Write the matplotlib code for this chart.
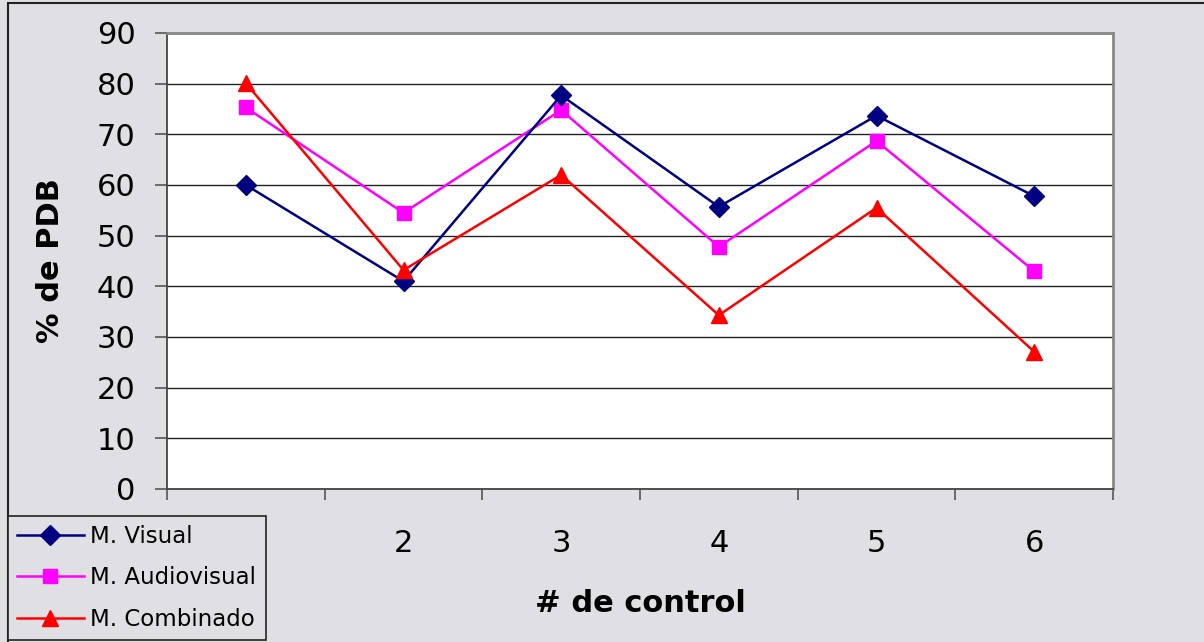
import numpy as np
import matplotlib
matplotlib.use('Agg')
import matplotlib.pyplot as plt
from matplotlib.patches import Rectangle

plt.rcParams['font.family'] = ['DejaVu Sans']

controles = ['1', '2', '3', '4', '5', '6']
visual = [60.0, 41.0, 77.7, 55.7, 73.7, 57.8]
audiovisual = [75.3, 54.5, 74.8, 47.8, 68.7, 43.0]
combinado = [80.1, 43.2, 62.0, 34.3, 55.5, 27.1]

W, H = 1204, 642
bg = '#e0dfe3'
fig = plt.figure(figsize=(W/100, H/100), dpi=100, facecolor=bg)

# outer frame (only top and left edges fall inside the image)
fig.patches.append(Rectangle((8/W, -0.1), 1.2, 1 - 3/H + 0.1, transform=fig.transFigure,
                             fill=False, edgecolor='#222222', lw=1.5))

ax = fig.add_axes([167/W, 1 - 489/H, 946/W, 456/H])
ax.set_facecolor('white')

x = np.arange(len(controles))
ax.plot(x, visual, color='#000080', marker='D', markersize=10, lw=1.8, label='M. Visual', zorder=5)
ax.plot(x, audiovisual, color='#ff00ff', marker='s', markersize=10, lw=1.8, label='M. Audiovisual', zorder=4)
ax.plot(x, combinado, color='#ff0000', marker='^', markersize=12, lw=1.8, label='M. Combinado', zorder=6)

ax.set_xlim(-0.5, 5.5)
ax.set_ylim(0, 90)
ax.set_yticks(np.arange(0, 91, 10))
ax.yaxis.grid(True, color='#222222', lw=1)
ax.set_axisbelow(True)

ax.set_xticks(np.arange(-0.5, 6, 1))
ax.set_xticklabels([])
ax.set_xticks(x, minor=True)
ax.set_xticklabels(controles, minor=True)
ax.tick_params(axis='x', which='major', direction='out', length=8, width=1.2, color='#555555')
ax.tick_params(axis='x', which='minor', length=0, pad=29, labelsize=22)
ax.tick_params(axis='y', direction='out', length=8.6, width=1.2, color='#555555', labelsize=22, pad=14)

for s in ['left', 'bottom']:
    ax.spines[s].set_color('#444444')
    ax.spines[s].set_linewidth(1.3)
for s in ['top', 'right']:
    ax.spines[s].set_color('#888888')
    ax.spines[s].set_linewidth(2)

ax.set_ylabel('% de PDB', fontsize=22, fontweight='bold', labelpad=23)
ax.set_xlabel('# de control', fontsize=22, fontweight='bold', labelpad=22)

leg = fig.legend(loc='upper left', bbox_to_anchor=(8/W, 1 - 516/H), borderaxespad=0,
                 fontsize=16.5, frameon=True, fancybox=False, facecolor=bg, framealpha=1,
                 edgecolor='#222222', handlelength=2.9, labelspacing=0.8, handletextpad=0.3,
                 borderpad=0.4)
leg.get_frame().set_linewidth(1.2)
leg.set_zorder(10)

plt.savefig('out.png', dpi=100, facecolor=bg)
